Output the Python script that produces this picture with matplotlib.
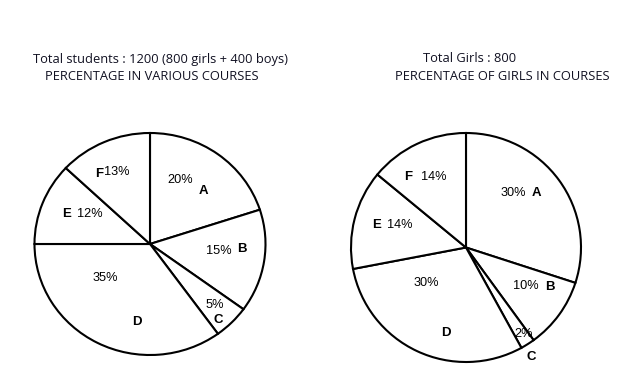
import matplotlib
matplotlib.use("Agg")
import matplotlib.pyplot as plt

# ---- data ----
courses = ["A", "B", "C", "D", "E", "F"]
all_students_pct = [20, 15, 5, 35, 12, 13]
girls_pct = [30, 10, 2, 30, 14, 14]

left_title = "Total students : 1200 (800 girls + 400 boys)"
left_sub = "PERCENTAGE IN VARIOUS COURSES"
right_title = "Total Girls : 800"
right_sub = "PERCENTAGE OF GIRLS IN COURSES"

# ---- label placement (data coords, relative to pie) ----
left_pct_pos = [(0.26, 0.577), (0.597, -0.063), (0.563, -0.55), (-0.39, -0.306), (-0.519, 0.27), (-0.286, 0.649)]
left_let_pos = [(0.459, 0.477), (0.797, -0.045), (0.589, -0.685), (-0.113, -0.703), (-0.719, 0.27), (-0.442, 0.63)]
right_pct_pos = [(0.409, 0.476), (0.522, -0.336), (0.504, -0.755), (-0.348, -0.31), (-0.574, 0.197), (-0.278, 0.616)]
right_let_pos = [(0.609, 0.476), (0.730, -0.345), (0.565, -0.956), (-0.174, -0.747), (-0.774, 0.197), (-0.504, 0.616)]

W, H = 617, 382
fig = plt.figure(figsize=(W / 100, H / 100), dpi=100)
fig.patch.set_facecolor("white")


def draw_pie(rect_px, values, pct_pos, let_pos):
    x0, x1, y0, y1 = rect_px  # pixel box, y from top
    ax = fig.add_axes([x0 / W, (H - y1) / H, (x1 - x0) / W, (y1 - y0) / H])
    ax.pie(values, startangle=90, counterclock=False, radius=1,
           wedgeprops=dict(facecolor="white", edgecolor="black", linewidth=1.5))
    ax.set_aspect("auto")
    ax.set_xlim(-1.0, 1.0)
    ax.set_ylim(-1.0, 1.0)
    ax.axis("off")
    for v, (px, py) in zip(values, pct_pos):
        ax.text(px, py, f"{v}%", ha="center", va="center", fontsize=9.2,
                family="Liberation Sans", color="black", clip_on=False)
    for c, (px, py) in zip(courses, let_pos):
        ax.text(px, py, c, ha="center", va="center", fontsize=9.5,
                family="Liberation Sans", fontweight="bold", color="black", clip_on=False)
    return ax


draw_pie((34.5, 265.5, 133, 355), all_students_pct, left_pct_pos, left_let_pos)
draw_pie((351, 581, 133, 362), girls_pct, right_pct_pos, right_let_pos)

tkw = dict(family="Open Sans", fontsize=9.25, color="#111122", va="center", ha="left")
fig.text(33 / W, 1 - 59 / H, left_title, **tkw)
fig.text(45 / W, 1 - 76 / H, left_sub, **tkw)
fig.text(423 / W, 1 - 59 / H, right_title, **tkw)
fig.text(395 / W, 1 - 76 / H, right_sub, **tkw)

fig.savefig("out.png", dpi=100, facecolor="white")
